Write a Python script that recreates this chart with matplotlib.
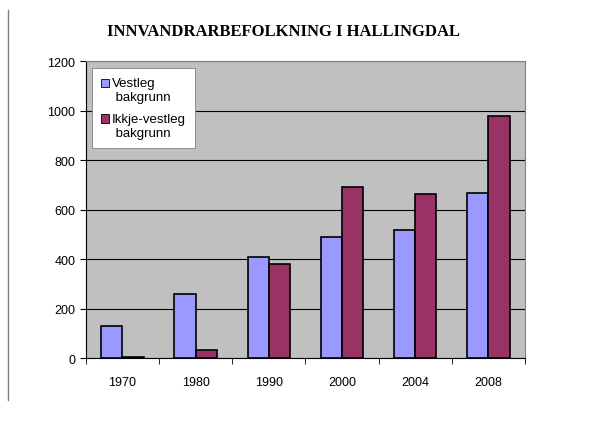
import matplotlib.pyplot as plt
import matplotlib.patches as mpatches
from matplotlib.legend_handler import HandlerPatch
import numpy as np

years = ['1970', '1980', '1990', '2000', '2004', '2008']
vestleg = [130, 258, 408, 488, 517, 667]
ikkje_vestleg = [5, 32, 380, 693, 663, 980]


# legend square sits next to the first line of the two-line label
def top_square(legend, orig_handle, xdescent, ydescent, width, height, fontsize):
    return mpatches.Rectangle((-xdescent, -ydescent + 0.55 * fontsize), width, height)


fig = plt.figure(figsize=(6, 4.31), dpi=100)
ax = fig.add_axes([0.143, 0.167, 0.732, 0.689])
ax.set_facecolor('#C0C0C0')

x = np.arange(len(years))
w = 0.29
b1 = ax.bar(x - w / 2, vestleg, width=w, color='#9999FF', edgecolor='black', linewidth=1.2,
            zorder=3)
b2 = ax.bar(x + w / 2, ikkje_vestleg, width=w, color='#993366', edgecolor='black', linewidth=1.2,
            zorder=3)

ax.set_xlim(-0.5, len(years) - 0.5)
ax.set_ylim(0, 1200)
ax.set_yticks(range(0, 1201, 200))
ax.yaxis.grid(True, color='black', linewidth=0.8, zorder=1)
ax.set_xticks(x)
ax.set_xticklabels(years)
ax.set_xticks(np.arange(-0.5, len(years)), minor=True)
ax.tick_params(axis='x', which='major', length=0, pad=13)
ax.tick_params(axis='x', which='minor', length=4, direction='out')
ax.tick_params(axis='y', length=4, direction='out')
ax.tick_params(labelsize=9)
for lab in ax.get_xticklabels() + ax.get_yticklabels():
    lab.set_fontfamily('Liberation Sans')

for s in ['top', 'right']:
    ax.spines[s].set_color('#808080')
ax.spines['left'].set_color('black')
ax.spines['bottom'].set_color('black')

h1, h2 = b1.patches[0], b2.patches[0]
hm = HandlerPatch(patch_func=top_square)
leg = ax.legend([h1, h2], ['Vestleg\n bakgrunn', 'Ikkje-vestleg\n bakgrunn'],
                loc='upper left', bbox_to_anchor=(0.005, 0.99), fancybox=False, framealpha=1,
                edgecolor='#808080', handlelength=0.6, handleheight=0.6, handletextpad=0.2,
                prop={'family': 'Liberation Sans', 'size': 9.5}, labelspacing=0.75,
                borderpad=0.7, borderaxespad=0.3, handler_map={h1: hm, h2: hm})
leg.get_frame().set_linewidth(0.6)
for p in leg.get_patches():
    p.set_linewidth(0.6)

fig.text(0.472, 0.925, 'INNVANDRARBEFOLKNING I HALLINGDAL', ha='center', va='center',
         fontsize=12, fontweight='bold', family='Liberation Serif')

fig.add_artist(plt.Line2D([0.014, 0.014], [0.07, 0.975], color='#808080', linewidth=1))

fig.savefig('out.png', dpi=100)
